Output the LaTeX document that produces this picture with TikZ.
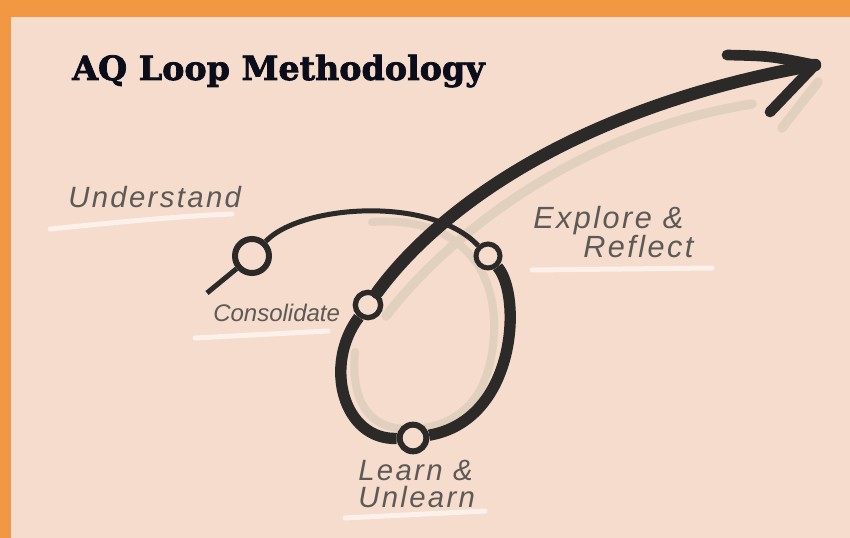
\documentclass[tikz,border=0pt]{standalone}
\usepackage{fontspec}
\usepackage{tikz}
\newfontfamily\titlefont[BoldFeatures={FakeBold=2.2}]{DejaVu Serif}
\newfontfamily\handfont[LetterSpace=8]{Liberation Sans}

\definecolor{frameorange}{RGB}{242,152,66}
\definecolor{peach}{RGB}{245,220,205}
\definecolor{ink}{RGB}{43,42,40}
\definecolor{tan}{RGB}{226,208,190}
\definecolor{chalk}{RGB}{251,241,234}
\definecolor{pencil}{RGB}{92,89,86}
\definecolor{titleink}{RGB}{11,14,26}

\tikzset{
  stopring/.style={circle, draw=ink, fill=peach, line width=4.5pt, inner sep=0pt},
  thinline/.style={draw=ink, line width=3.75pt},
  loopline/.style={draw=ink, line width=8.5pt},
  shaftline/.style={draw=ink, line width=9.5pt, line cap=round, line join=round},
  shade/.style={draw=tan, line width=6pt, line cap=round},
  underline/.style={draw=chalk, line width=3.75pt, line cap=round},
  hand/.style={text=pencil, inner sep=0pt, anchor=base west, align=left, font=\handfont\itshape}
}

\begin{document}
\begin{tikzpicture}[x=0.75pt,y=0.75pt,yscale=-1,xscale=1]
\useasboundingbox (0,0) rectangle (850,538);

%Frame
\fill[frameorange] (0,0) rectangle (850,538);
\fill[peach] (11,17) rectangle (850,538);

%Shadows
\draw[shade] (372,222) .. controls (452,216) and (496,262) .. (494,330) .. controls (492,402) and (455,429) .. (408,429) .. controls (364,429) and (351,394) .. (355,352);
\draw[shade, line width=7pt] (386,316) .. controls (446,238) and (575,132) .. (752,104);
\draw[shade, line width=7pt] (818,82) -- (782,128);

%Underlines
\draw[underline] (50,229) .. controls (120,222) and (180,216) .. (232,214);
\draw[underline] (195,338) -- (328,331);
\draw[underline] (532,270) -- (712,268);
\draw[underline] (345,518) -- (485,511);

%Stops on the loop
\node[stopring, minimum size=25.5pt] (understandstop) at (252,256) {};
\node[stopring, minimum width=18pt, minimum height=16.5pt, line width=3.75pt] (explorestop) at (488,256) {};
\node[stopring, minimum size=20pt] (learnstop) at (413,438) {};
\node[stopring, minimum size=19pt, line width=4pt] (consolidatestop) at (368,305) {};
\coordinate (start) at (207,293);
\coordinate (tip) at (815,65);
\coordinate (barbup) at (727,55);
\coordinate (barblow) at (770,112);

%Loop
\draw[thinline] (start) -- (understandstop);
\draw[thinline] (understandstop) .. controls (300,205) and (430,195) .. (explorestop);
\draw[loopline] (explorestop) .. controls (522,295) and (517,420) .. (learnstop);
\draw[loopline] (learnstop) .. controls (343,440) and (323,365) .. (consolidatestop);

%Arrow
\draw[shaftline] (consolidatestop) .. controls (430,220) and (560,110) .. (tip);
\draw[shaftline, line width=8pt] (barbup) .. controls (770,56) .. (tip) -- (barblow);

% Text Node
\node[anchor=base west, inner sep=0pt, text=titleink, font=\titlefont\bfseries\fontsize{25}{28}\selectfont] (title) at (72,80) {AQ Loop Methodology};
% Text Node
\node[hand, font=\handfont\itshape\fontsize{22}{24}\selectfont] (understand) at (68,208) {Understand};
% Text Node
\node[hand, font=\handfont\itshape\fontsize{18}{22}\selectfont\addfontfeatures{LetterSpace=0}] (consolidate) at (213,322) {Consolidate};
% Text Node
\node[hand, font=\handfont\itshape\fontsize{23}{21}\selectfont] (explore) at (533,258) {Explore \&\\\hspace*{37.5pt}Reflect};
% Text Node
\node[hand, font=\handfont\itshape\fontsize{22}{20}\selectfont] (learn) at (358,507) {Learn \&\\Unlearn};

\end{tikzpicture}
\end{document}
